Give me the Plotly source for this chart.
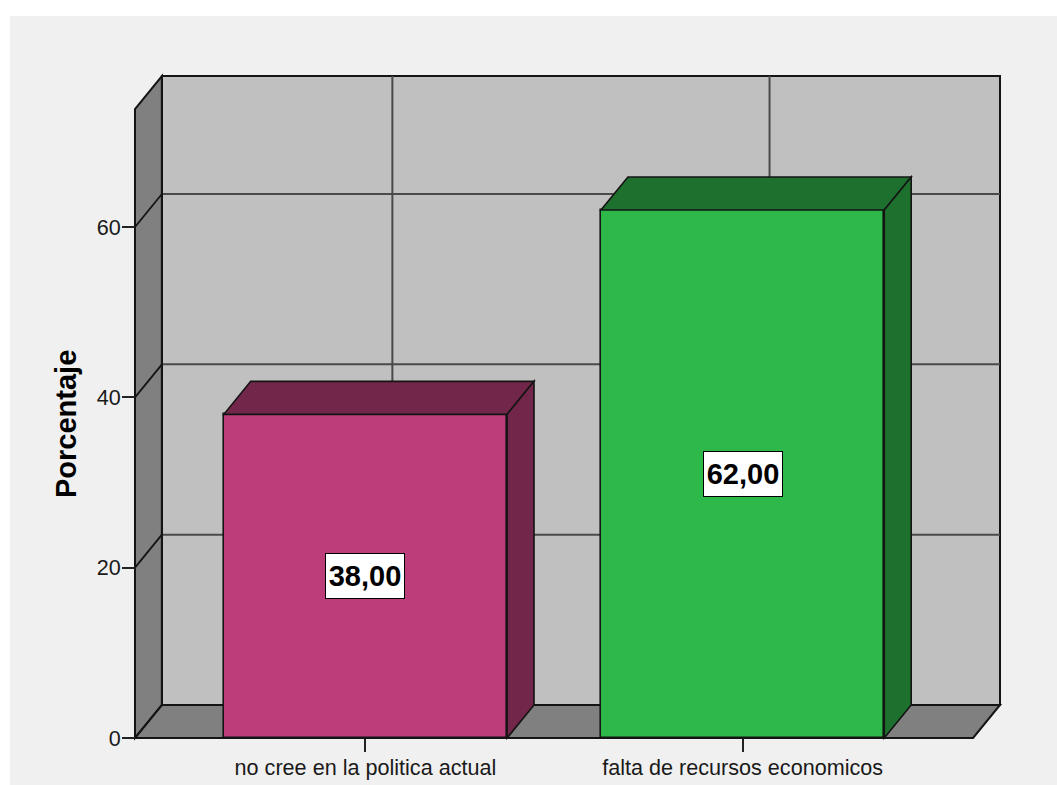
import plotly.graph_objects as go

# Data
categories = ["no cree en la politica actual", "falta de recursos economicos"]
percentages = [38.00, 62.00]
value_labels = ["38,00", "62,00"]
y_ticks = [0, 20, 40, 60]

# Styling
front_colors = ["#BB3E7B", "#2EB84A"]
side_colors = ["#72264A", "#1E702E"]
BACK_WALL = "#C0C0C0"
SIDE_WALL = "#808080"
EDGE = "#141414"
GRID = "#4a4a4a"
FONT = "Liberation Sans, Arial, sans-serif"

# 3D box geometry in data units
X_LEFT, X_RIGHT = -0.611, 1.611      # front plane extents (category units)
Y_TOP = 73.85                        # front plane top (percent)
DX, DY = 0.0714, 3.875               # depth offset of the back plane
BAR_W = 0.751

# Plot area in pixels (slightly padded around the box so edges are not clipped)
W, H = 1057, 785
PL, PR, PT, PB = 130, 1005, 71, 743
PX_PER_X = 378.0
PX_PER_Y = 8.517
x_range = [X_LEFT - (135 - PL) / PX_PER_X, X_RIGHT + DX + (PR - 1000) / PX_PER_X]
y_range = [-(PB - 738) / PX_PER_Y, Y_TOP + DY + (76 - PT) / PX_PER_Y]


def poly(pts):
    return "M " + " L ".join(f"{x},{y}" for x, y in pts) + " Z"


def seg(p, q):
    return f"M {p[0]},{p[1]} L {q[0]},{q[1]}"


shapes = []
# page background (white border along the top and left edges)
pw, ph = PR - PL, PB - PT
shapes.append(dict(type="rect", xref="paper", yref="paper", layer="below",
                   x0=(10 - PL) / pw, x1=(W + 5 - PL) / pw,
                   y0=(PB - H - 5) / ph, y1=(PB - 16) / ph,
                   fillcolor="#F0F0F0", line=dict(width=0)))

# back wall
shapes.append(dict(type="path", xref="x", yref="y", layer="below",
                   path=poly([(X_LEFT + DX, DY), (X_RIGHT + DX, DY),
                              (X_RIGHT + DX, Y_TOP + DY), (X_LEFT + DX, Y_TOP + DY)]),
                   fillcolor=BACK_WALL, line=dict(color=EDGE, width=2)))
# left wall
shapes.append(dict(type="path", xref="x", yref="y", layer="below",
                   path=poly([(X_LEFT, 0), (X_LEFT, Y_TOP),
                              (X_LEFT + DX, Y_TOP + DY), (X_LEFT + DX, DY)]),
                   fillcolor=SIDE_WALL, line=dict(color=EDGE, width=2)))
# floor
shapes.append(dict(type="path", xref="x", yref="y", layer="below",
                   path=poly([(X_LEFT, 0), (X_RIGHT, 0),
                              (X_RIGHT + DX, DY), (X_LEFT + DX, DY)]),
                   fillcolor=SIDE_WALL, line=dict(color=EDGE, width=2)))

# horizontal grid lines on back wall and left wall
for t in y_ticks[1:]:
    shapes.append(dict(type="path", xref="x", yref="y", layer="below",
                       path=seg((X_LEFT + DX, t + DY), (X_RIGHT + DX, t + DY)),
                       line=dict(color=GRID, width=2)))
    shapes.append(dict(type="path", xref="x", yref="y", layer="below",
                       path=seg((X_LEFT, t), (X_LEFT + DX, t + DY)),
                       line=dict(color=EDGE, width=1.8)))
# vertical grid lines on back wall at category positions
for i in range(len(categories)):
    shapes.append(dict(type="path", xref="x", yref="y", layer="below",
                       path=seg((i + DX, DY), (i + DX, Y_TOP + DY)),
                       line=dict(color=GRID, width=2)))
# inner corner edges
shapes.append(dict(type="path", xref="x", yref="y", layer="below",
                   path=seg((X_LEFT + DX, DY), (X_LEFT + DX, Y_TOP + DY)),
                   line=dict(color=EDGE, width=2)))
shapes.append(dict(type="path", xref="x", yref="y", layer="below",
                   path=seg((X_LEFT + DX, DY), (X_RIGHT + DX, DY)),
                   line=dict(color=EDGE, width=2)))

# bar top and side faces
for i, v in enumerate(percentages):
    xl, xr = i - BAR_W / 2, i + BAR_W / 2
    shapes.append(dict(type="path", xref="x", yref="y", layer="above",
                       path=poly([(xl, v), (xr, v), (xr + DX, v + DY), (xl + DX, v + DY)]),
                       fillcolor=side_colors[i], line=dict(color=EDGE, width=1.6)))
    shapes.append(dict(type="path", xref="x", yref="y", layer="above",
                       path=poly([(xr, 0), (xr, v), (xr + DX, v + DY), (xr + DX, DY)]),
                       fillcolor=side_colors[i], line=dict(color=EDGE, width=1.6)))

fig = go.Figure()
fig.add_trace(go.Bar(
    x=list(range(len(categories))), y=percentages, width=BAR_W,
    marker=dict(color=front_colors, line=dict(color=EDGE, width=1.6)),
    hoverinfo="skip", showlegend=False,
))

annotations = []
for i, (v, lab) in enumerate(zip(percentages, value_labels)):
    annotations.append(dict(
        x=i, y=v / 2, xref="x", yref="y", text=f"<b>{lab}</b>", showarrow=False,
        xanchor="center", yanchor="middle", width=72, height=38,
        font=dict(family=FONT, size=29, color="#000000"),
        bgcolor="#FFFFFF", bordercolor="#000000", borderwidth=1, borderpad=3,
    ))
annotations.append(dict(
    x=(66 - PL) / pw, y=(PB - 424) / ph, xref="paper", yref="paper",
    xanchor="center", yanchor="middle",
    text="<b>Porcentaje</b>", textangle=-90, showarrow=False,
    font=dict(family=FONT, size=29, color="#000000"),
))

fig.update_layout(
    width=W, height=H, autosize=False,
    margin=dict(l=PL, r=W - PR, t=PT, b=H - PB, pad=0),
    paper_bgcolor="#FFFFFF", plot_bgcolor="rgba(0,0,0,0)",
    shapes=shapes, annotations=annotations, bargap=0,
    xaxis=dict(
        range=x_range, anchor="free", position=(PB - 738) / ph, automargin=False,
        tickvals=list(range(len(categories))), ticktext=categories,
        ticks="outside", ticklen=13, tickwidth=1.5, tickcolor="#222222",
        ticklabelstandoff=-3,
        showgrid=False, zeroline=False, showline=False,
        tickfont=dict(family=FONT, size=21.6, color="#1a1a1a"), fixedrange=True,
    ),
    yaxis=dict(
        range=y_range, anchor="free", position=(135 - PL) / pw, automargin=False,
        tickvals=y_ticks, ticks="outside", ticklen=13, tickwidth=1.5,
        tickcolor="#222222", ticklabelstandoff=-3,
        showgrid=False, zeroline=False, showline=False,
        tickfont=dict(family=FONT, size=21.6, color="#1a1a1a"), fixedrange=True,
    ),
)

fig.write_html("out.html")
